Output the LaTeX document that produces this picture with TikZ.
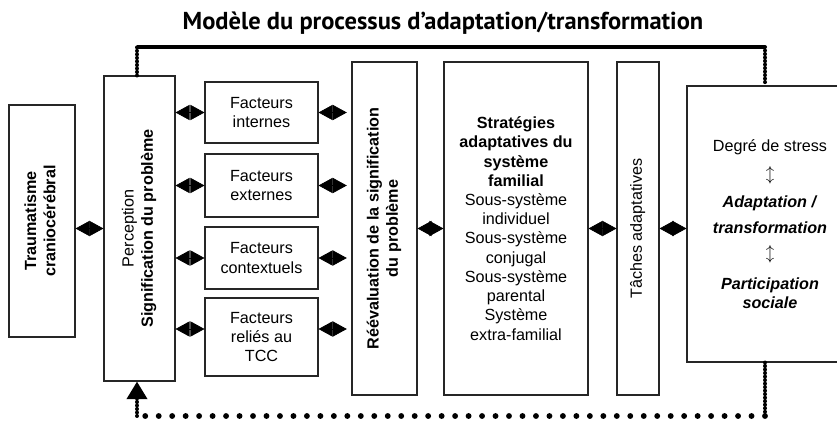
\documentclass[tikz,border=0pt]{standalone}
\usepackage{fontspec}
\setmainfont{Liberation Sans}
\newfontfamily\titrefont{PT Sans}
\usepackage{graphicx}
\usepackage{tikz}
\usetikzlibrary{arrows.meta}

\tikzset{
  boite/.style 2 args={draw=black!85, line width=0.9pt, inner sep=0pt,
    minimum width=#1*0.03cm, minimum height=#2*0.03cm, align=center},
  fleche/.style={{Triangle[length=12pt,width=13pt]}-{Triangle[length=12pt,width=13pt]},
    line width=0.6pt},
  chaine/.style={line width=3.4pt, line cap=round, dash pattern=on 0pt off 3pt},
  pointille/.style={line width=5pt, line cap=round, dash pattern=on 0pt off 11.5pt},
}
\newcommand{\vtexte}[1]{\rotatebox{90}{\begin{tabular}{@{}c@{}}#1\end{tabular}}}

\begin{document}
\begin{tikzpicture}[x=0.03cm, y=-0.03cm, font=\fontsize{13.8}{16.4}\selectfont]
	\useasboundingbox (0,0) rectangle (837,421);

	\node[anchor=base] (titre) at (443,29) {\titrefont\fontsize{20.9}{24}\selectfont\bfseries Modèle du processus d’adaptation/transformation};

	% boites
	\node[boite={66}{232}] (trauma) at (42,221) {\vtexte{\bfseries Traumatisme\\ \bfseries craniocérébral}};
	\node[boite={71}{305}] (percep) at (139.5,228.5) {\vtexte{Perception\\ \bfseries Signification du problème}};

	\node[boite={113}{61}] (fint) at (261.5,112.5) {Facteurs\\internes};
	\node[boite={113}{63}] (fext) at (261.5,185.5) {Facteurs\\externes};
	\node[boite={113}{62}] (fcont) at (261.5,258) {Facteurs\\contextuels};
	\node[boite={113}{78}] (frel) at (261.5,337) {Facteurs\\reliés au\\TCC};

	\node[boite={65}{333}] (reeval) at (384.5,228.5) {\vtexte{\bfseries Réévaluation de la signification\\ \bfseries du problème}};
	\node[boite={144}{333}] (strat) at (516,228.5) {\textbf{Stratégies}\\\textbf{adaptatives du}\\\textbf{système}\\\textbf{familial}\\Sous-système\\individuel\\Sous-système\\conjugal\\Sous-système\\parental\\Système\\extra-familial};
	\node[boite={42}{333}] (taches) at (638,228.5) {\vtexte{Tâches adaptatives}};
	\node[boite={166}{276}] (droite) at (770,224) {Degré de stress\\[8pt]$\updownarrow$\\[7pt]\textbf{\textit{Adaptation /}}\\[6pt]\textbf{\textit{transformation}}\\[5pt]$\updownarrow$\\[10pt]\textbf{\textit{Participation}}\\\textbf{\textit{sociale}}};

	% fleches doubles
	\draw[fleche] (percep.west -| trauma.east) -- (percep.west);
	\draw[fleche] (percep.east |- fint) -- (fint.west);
	\draw[fleche] (percep.east |- fext) -- (fext.west);
	\draw[fleche] (percep.east |- fcont) -- (fcont.west);
	\draw[fleche] ([yshift=0.24cm]percep.east |- frel) -- ([yshift=0.24cm]frel.west);
	\draw[fleche, shorten >=4pt] (fint.east) -- (fint -| reeval.west);
	\draw[fleche, shorten >=4pt] (fext.east) -- (fext -| reeval.west);
	\draw[fleche, shorten >=4pt] (fcont.east) -- (fcont -| reeval.west);
	\draw[fleche, shorten >=4pt] ([yshift=0.24cm]frel.east) -- ([yshift=0.24cm]frel -| reeval.west);
	\draw[fleche] (reeval.east) -- (strat.west);
	\draw[fleche] (strat.east) -- (taches.west);
	\draw[fleche] (taches.east) -- (taches.east -| droite.west);

	% boucle de retour
	\coordinate (hg) at (137,47);
	\coordinate (hd) at (765,47);
	\coordinate (bg) at (137,416);
	\coordinate (bd) at (765,416);
	\draw[chaine] (hg |- percep.north) -- (hg);
	\draw[line width=3pt] (hg) -- (hd);
	\draw[chaine] (hd) -- (hd |- droite.north);
	\draw[chaine] (hd |- droite.south) -- (bd);
	\draw[pointille] (bd) -- (bg);
	\draw[chaine, -{Triangle[length=15pt,width=17pt]}] (bg) -- (bg |- percep.south);

\end{tikzpicture}
\end{document}
